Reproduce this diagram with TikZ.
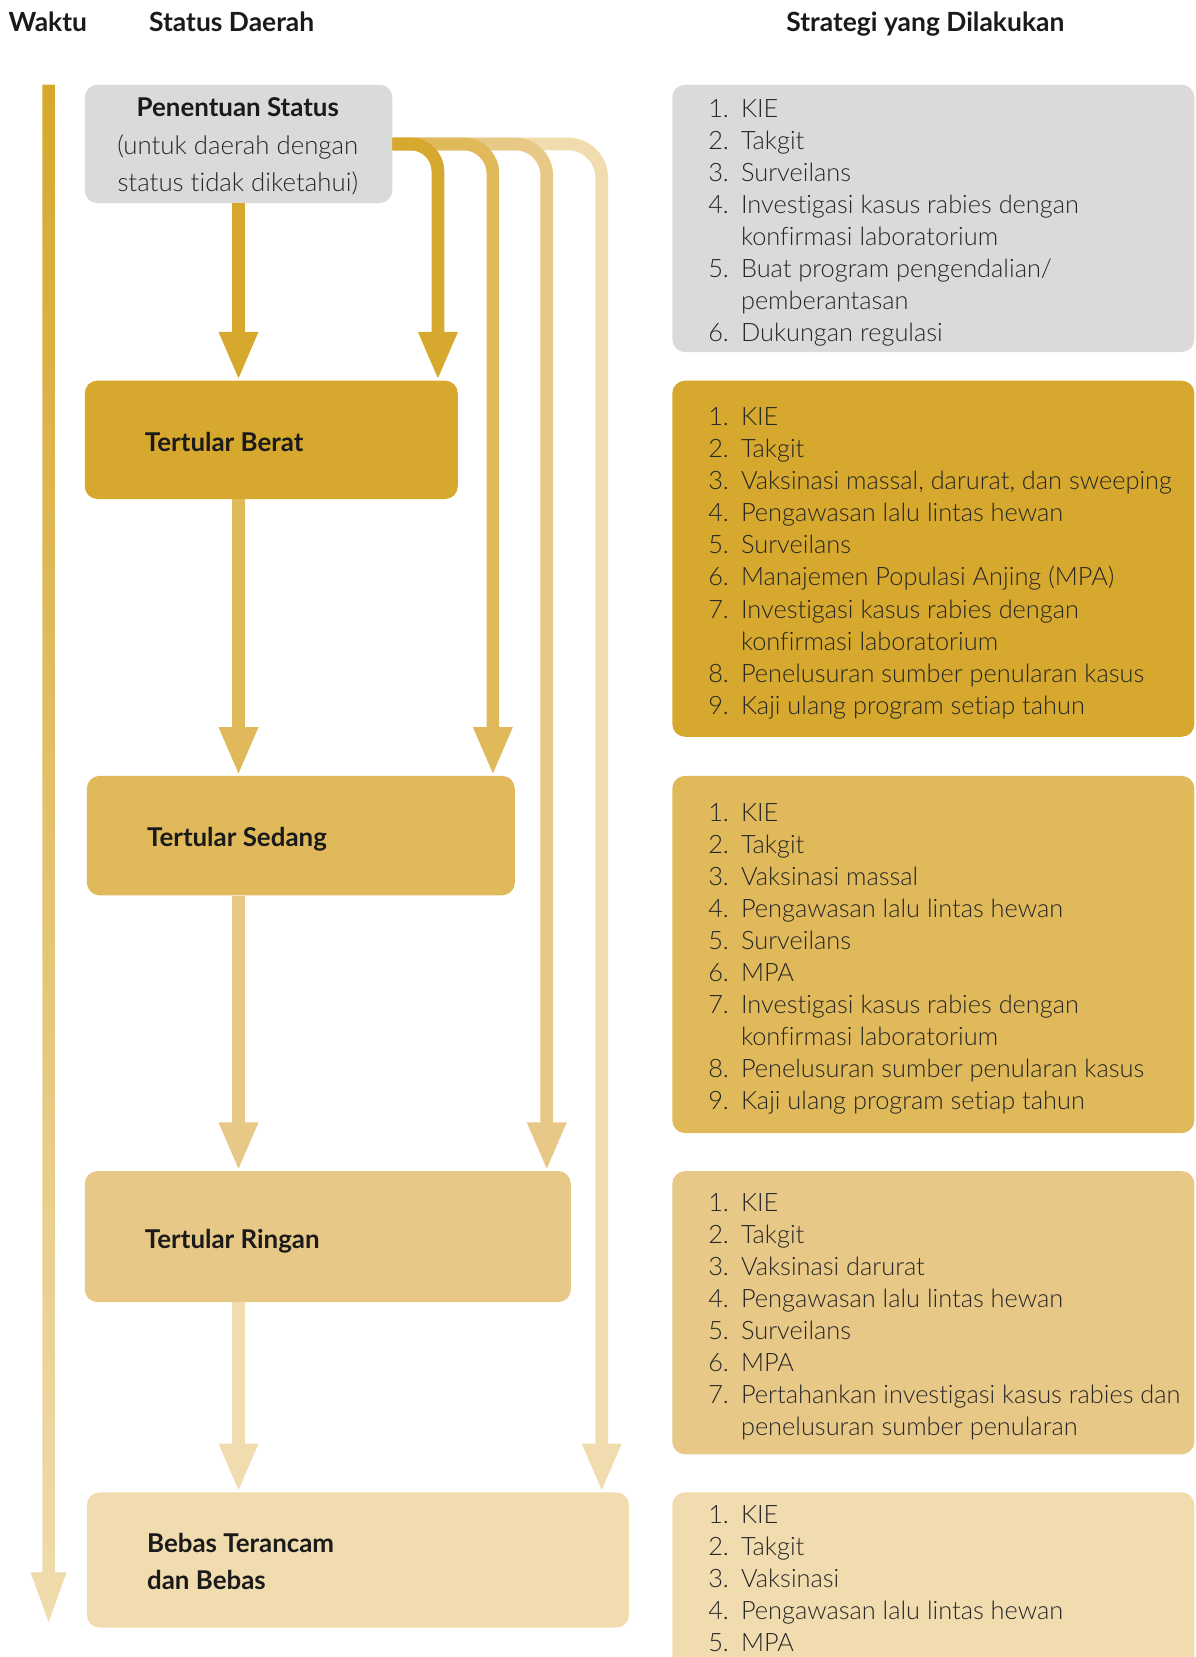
\documentclass[tikz,border=0pt]{standalone}
\usepackage{fontspec}
\setmainfont{Lato}
\newfontfamily\lightf{Lato Light}[Ligatures=NoCommon]
\usetikzlibrary{arrows.meta}
\definecolor{cg}{HTML}{DADADA}
\definecolor{c1}{HTML}{D6A82D}
\definecolor{c2}{HTML}{E0B95A}
\definecolor{c3}{HTML}{E8C886}
\definecolor{c4}{HTML}{F0DCAF}
\definecolor{tx}{HTML}{1A1A1A}
\definecolor{tl}{HTML}{262626}
\newcommand\itm[4]{\node[li] (#1) at (670,#2) {\makebox[31pt][l]{#3}#4};}
\begin{document}
\begin{tikzpicture}[x=1pt,y=-1pt,
  box/.style={rounded corners=12pt, draw=none, inner sep=0pt, anchor=north west},
  hd/.style={font=\bfseries\fontsize{24.5}{28}\selectfont, text=tx, inner sep=0pt, anchor=base west},
  colhd/.style={font=\bfseries\fontsize{25}{28}\selectfont, text=tx, inner sep=0pt, anchor=base west},
  li/.style={font=\lightf\fontsize{24}{30}\selectfont, text=tl, inner sep=0pt, anchor=base west},
  arr/.style={line width=12pt, -{Triangle[width=34pt,length=46pt]}},
]
\useasboundingbox (0,0) rectangle (1131,1568);
\begin{scope}
\clip (0,0) rectangle (1131,1568);
% headers
\node[colhd] (hwaktu) at (8,30) {Waktu};
\node[colhd] (hstatus) at (141,30) {Status Daerah};
\node[colhd] (hstrat) at (744,30) {Strategi yang Dilakukan};

% time arrow
\shade[top color=c1, bottom color=c4]
  (40,80) -- (52,80) -- (52,1488) -- (63,1488) -- (46,1535) -- (29,1488) -- (40,1488) -- cycle;

% left boxes
\node[box, fill=cg, minimum width=291pt, minimum height=112pt] (pen) at (80,80) {};
\node[box, fill=c1, minimum width=353pt, minimum height=112pt] (berat) at (80,360) {};
\node[box, fill=c2, minimum width=405pt, minimum height=113pt] (sedang) at (82,734) {};
\node[box, fill=c3, minimum width=460pt, minimum height=124pt] (ringan) at (80,1108) {};
\node[box, fill=c4, minimum width=513pt, minimum height=128pt] (bebas) at (82,1412) {};

% right boxes
\node[box, fill=cg, minimum width=494pt, minimum height=253pt] (s0) at (636,80) {};
\node[box, fill=c1, minimum width=494pt, minimum height=337pt] (s1) at (636,360) {};
\node[box, fill=c2, minimum width=494pt, minimum height=338pt] (s2) at (636,734) {};
\node[box, fill=c3, minimum width=494pt, minimum height=268pt] (s3) at (636,1108) {};
\node[box, fill=c4, minimum width=494pt, minimum height=200pt] (s4) at (636,1412) {};

% left texts
\node[hd, anchor=base] (tpen1) at (225,110) {Penentuan Status};
\node[li, anchor=base, font=\lightf\fontsize{24.4}{30}\selectfont] (tpen2) at (225,146) {(untuk daerah dengan};
\node[li, anchor=base, font=\lightf\fontsize{24.4}{30}\selectfont] (tpen3) at (225,181) {status tidak diketahui)};
\node[hd] (tberat) at (137,427) {Tertular Berat};
\node[hd] (tsedang) at (139,801) {Tertular Sedang};
\node[hd] (tringan) at (137,1181) {Tertular Ringan};
\node[hd] (tbebas1) at (139,1469) {Bebas Terancam};
\node[hd] (tbebas2) at (139,1504) {dan Bebas};

% curved arrows (lightest first)
\draw[arr, c4, rounded corners=32pt] (pen.east) -| ([xshift=-26pt]bebas.north east);
\draw[arr, c3, rounded corners=30pt] (pen.east) -| ([xshift=-23pt]ringan.north east);
\draw[arr, c2, rounded corners=28pt] (pen.east) -| ([xshift=-21pt]sedang.north east);
\draw[arr, c1, rounded corners=26pt] (pen.east) -| ([xshift=-19pt]berat.north east);

% straight arrows
\draw[arr, c1] (pen.south) -- (pen.south |- berat.north);
\draw[arr, c2] (pen.south |- berat.south) -- (pen.south |- sedang.north);
\draw[arr, c3] (pen.south |- sedang.south) -- (pen.south |- ringan.north);
\draw[arr, c4] (pen.south |- ringan.south) -- (pen.south |- bebas.north);

% list 0
\itm{a1}{111}{1.}{KIE}
\itm{a2}{141.3}{2.}{Takgit}
\itm{a3}{171.6}{3.}{Surveilans}
\itm{a4}{201.9}{4.}{Investigasi kasus rabies dengan}
\itm{a5}{232.2}{}{konfirmasi laboratorium}
\itm{a6}{262.5}{5.}{Buat program pengendalian/}
\itm{a7}{292.8}{}{pemberantasan}
\itm{a8}{323.1}{6.}{Dukungan regulasi}
% list 1
\itm{b1}{403}{1.}{KIE}
\itm{b2}{433.3}{2.}{Takgit}
\itm{b3}{463.6}{3.}{Vaksinasi massal, darurat, dan sweeping}
\itm{b4}{493.9}{4.}{Pengawasan lalu lintas hewan}
\itm{b5}{524.2}{5.}{Surveilans}
\itm{b6}{554.5}{6.}{Manajemen Populasi Anjing (MPA)}
\itm{b7}{584.8}{7.}{Investigasi kasus rabies dengan}
\itm{b8}{615.1}{}{konfirmasi laboratorium}
\itm{b9}{645.4}{8.}{Penelusuran sumber penularan kasus}
\itm{b10}{675.7}{9.}{Kaji ulang program setiap tahun}
% list 2
\itm{c1n}{777}{1.}{KIE}
\itm{c2n}{807.3}{2.}{Takgit}
\itm{c3n}{837.6}{3.}{Vaksinasi massal}
\itm{c4n}{867.9}{4.}{Pengawasan lalu lintas hewan}
\itm{c5n}{898.2}{5.}{Surveilans}
\itm{c6n}{928.5}{6.}{MPA}
\itm{c7n}{958.8}{7.}{Investigasi kasus rabies dengan}
\itm{c8n}{989.1}{}{konfirmasi laboratorium}
\itm{c9n}{1019.4}{8.}{Penelusuran sumber penularan kasus}
\itm{c10n}{1049.7}{9.}{Kaji ulang program setiap tahun}
% list 3
\itm{d1}{1146}{1.}{KIE}
\itm{d2}{1176.3}{2.}{Takgit}
\itm{d3}{1206.6}{3.}{Vaksinasi darurat}
\itm{d4}{1236.9}{4.}{Pengawasan lalu lintas hewan}
\itm{d5}{1267.2}{5.}{Surveilans}
\itm{d6}{1297.5}{6.}{MPA}
\itm{d7}{1327.8}{7.}{Pertahankan investigasi kasus rabies dan}
\itm{d8}{1358.1}{}{penelusuran sumber penularan}
% list 4
\itm{e1}{1442}{1.}{KIE}
\itm{e2}{1472.3}{2.}{Takgit}
\itm{e3}{1502.6}{3.}{Vaksinasi}
\itm{e4}{1532.9}{4.}{Pengawasan lalu lintas hewan}
\itm{e5}{1563.2}{5.}{MPA}
\end{scope}
\end{tikzpicture}
\end{document}
